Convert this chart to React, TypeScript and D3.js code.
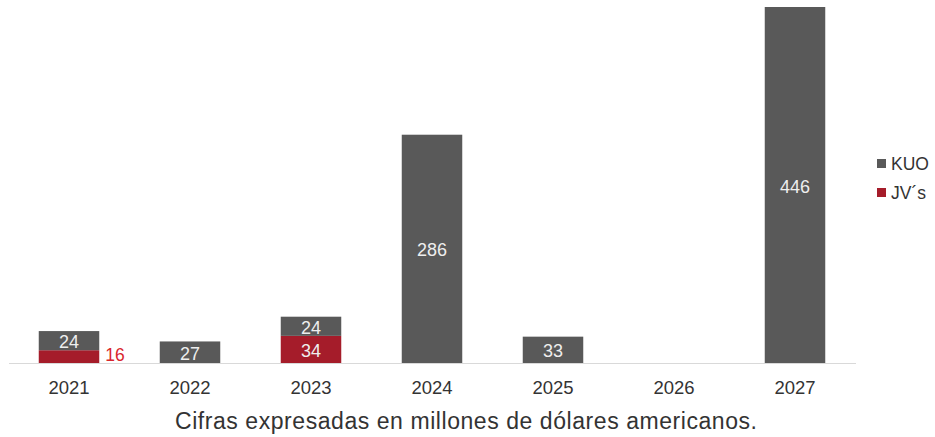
import React from "react";
import * as d3 from "d3";

const years = ["2021", "2022", "2023", "2024", "2025", "2026", "2027"];
const jvValues = [16, 0, 34, 0, 0, 0, 0];
const kuoValues = [24, 27, 24, 286, 33, 0, 446];
const seriesNames = ["KUO", "JV´s"];
const caption = "Cifras expresadas en millones de dólares americanos.";

const W = 935;
const H = 437;
const GRAY = "#595959";
const RED = "#a51c2a";
const FONT = "'Liberation Sans', Arial, sans-serif";

export default function App() {
  const x = d3.scaleBand<string>().domain(years).range([8.5, 855.5]).paddingInner(0.5).paddingOuter(0.25);
  const y = d3.scaleLinear().domain([0, 446]).range([363, 7]);
  const bw = x.bandwidth();

  return (
    <svg width={W} height={H} style={{ position: "absolute", left: 0, top: 0, background: "#fff" }} fontFamily={FONT}>
      <line x1={9} x2={856} y1={363.5} y2={363.5} stroke="#d9d9d9" strokeWidth={1} />
      {years.map((yr, i) => {
        const x0 = x(yr)!;
        const jv = jvValues[i];
        const kuo = kuoValues[i];
        const cx = x0 + bw / 2;
        return (
          <g key={yr}>
            {jv > 0 && (
              <rect x={x0} width={bw} y={y(jv)} height={y(0) - y(jv)} fill={RED} />
            )}
            {kuo > 0 && (
              <rect x={x0} width={bw} y={y(jv + kuo)} height={y(jv) - y(jv + kuo)} fill={GRAY} />
            )}
            {kuo > 0 && (
              <text x={cx} y={(y(jv) + y(jv + kuo)) / 2} dy="0.42em" textAnchor="middle" fontSize={18} fill="#eeeeee">
                {kuo}
              </text>
            )}
            {jv >= 30 && (
              <text x={cx} y={(y(0) + y(jv)) / 2} dy="0.42em" textAnchor="middle" fontSize={18} fill="#eeeeee">
                {jv}
              </text>
            )}
            {jv > 0 && jv < 30 && (
              <text x={x0 + bw + 6} y={361} textAnchor="start" fontSize={17.5} fill="#d9262e">
                {jv}
              </text>
            )}
            <text x={cx} y={394} textAnchor="middle" fontSize={18.5} fill="#333333">
              {yr}
            </text>
          </g>
        );
      })}
      <g>
        <rect x={877} y={159} width={9} height={9} fill={GRAY} />
        <text x={891} y={169.5} fontSize={17.5} fill="#333333">{seriesNames[0]}</text>
        <rect x={877} y={188} width={9} height={9} fill={RED} />
        <text x={891} y={199} fontSize={17.5} fill="#333333">{seriesNames[1]}</text>
      </g>
      <text x={466} y={429} textAnchor="middle" fontSize={23} fill="#333333" textLength={582} lengthAdjust="spacing">
        {caption}
      </text>
    </svg>
  );
}
